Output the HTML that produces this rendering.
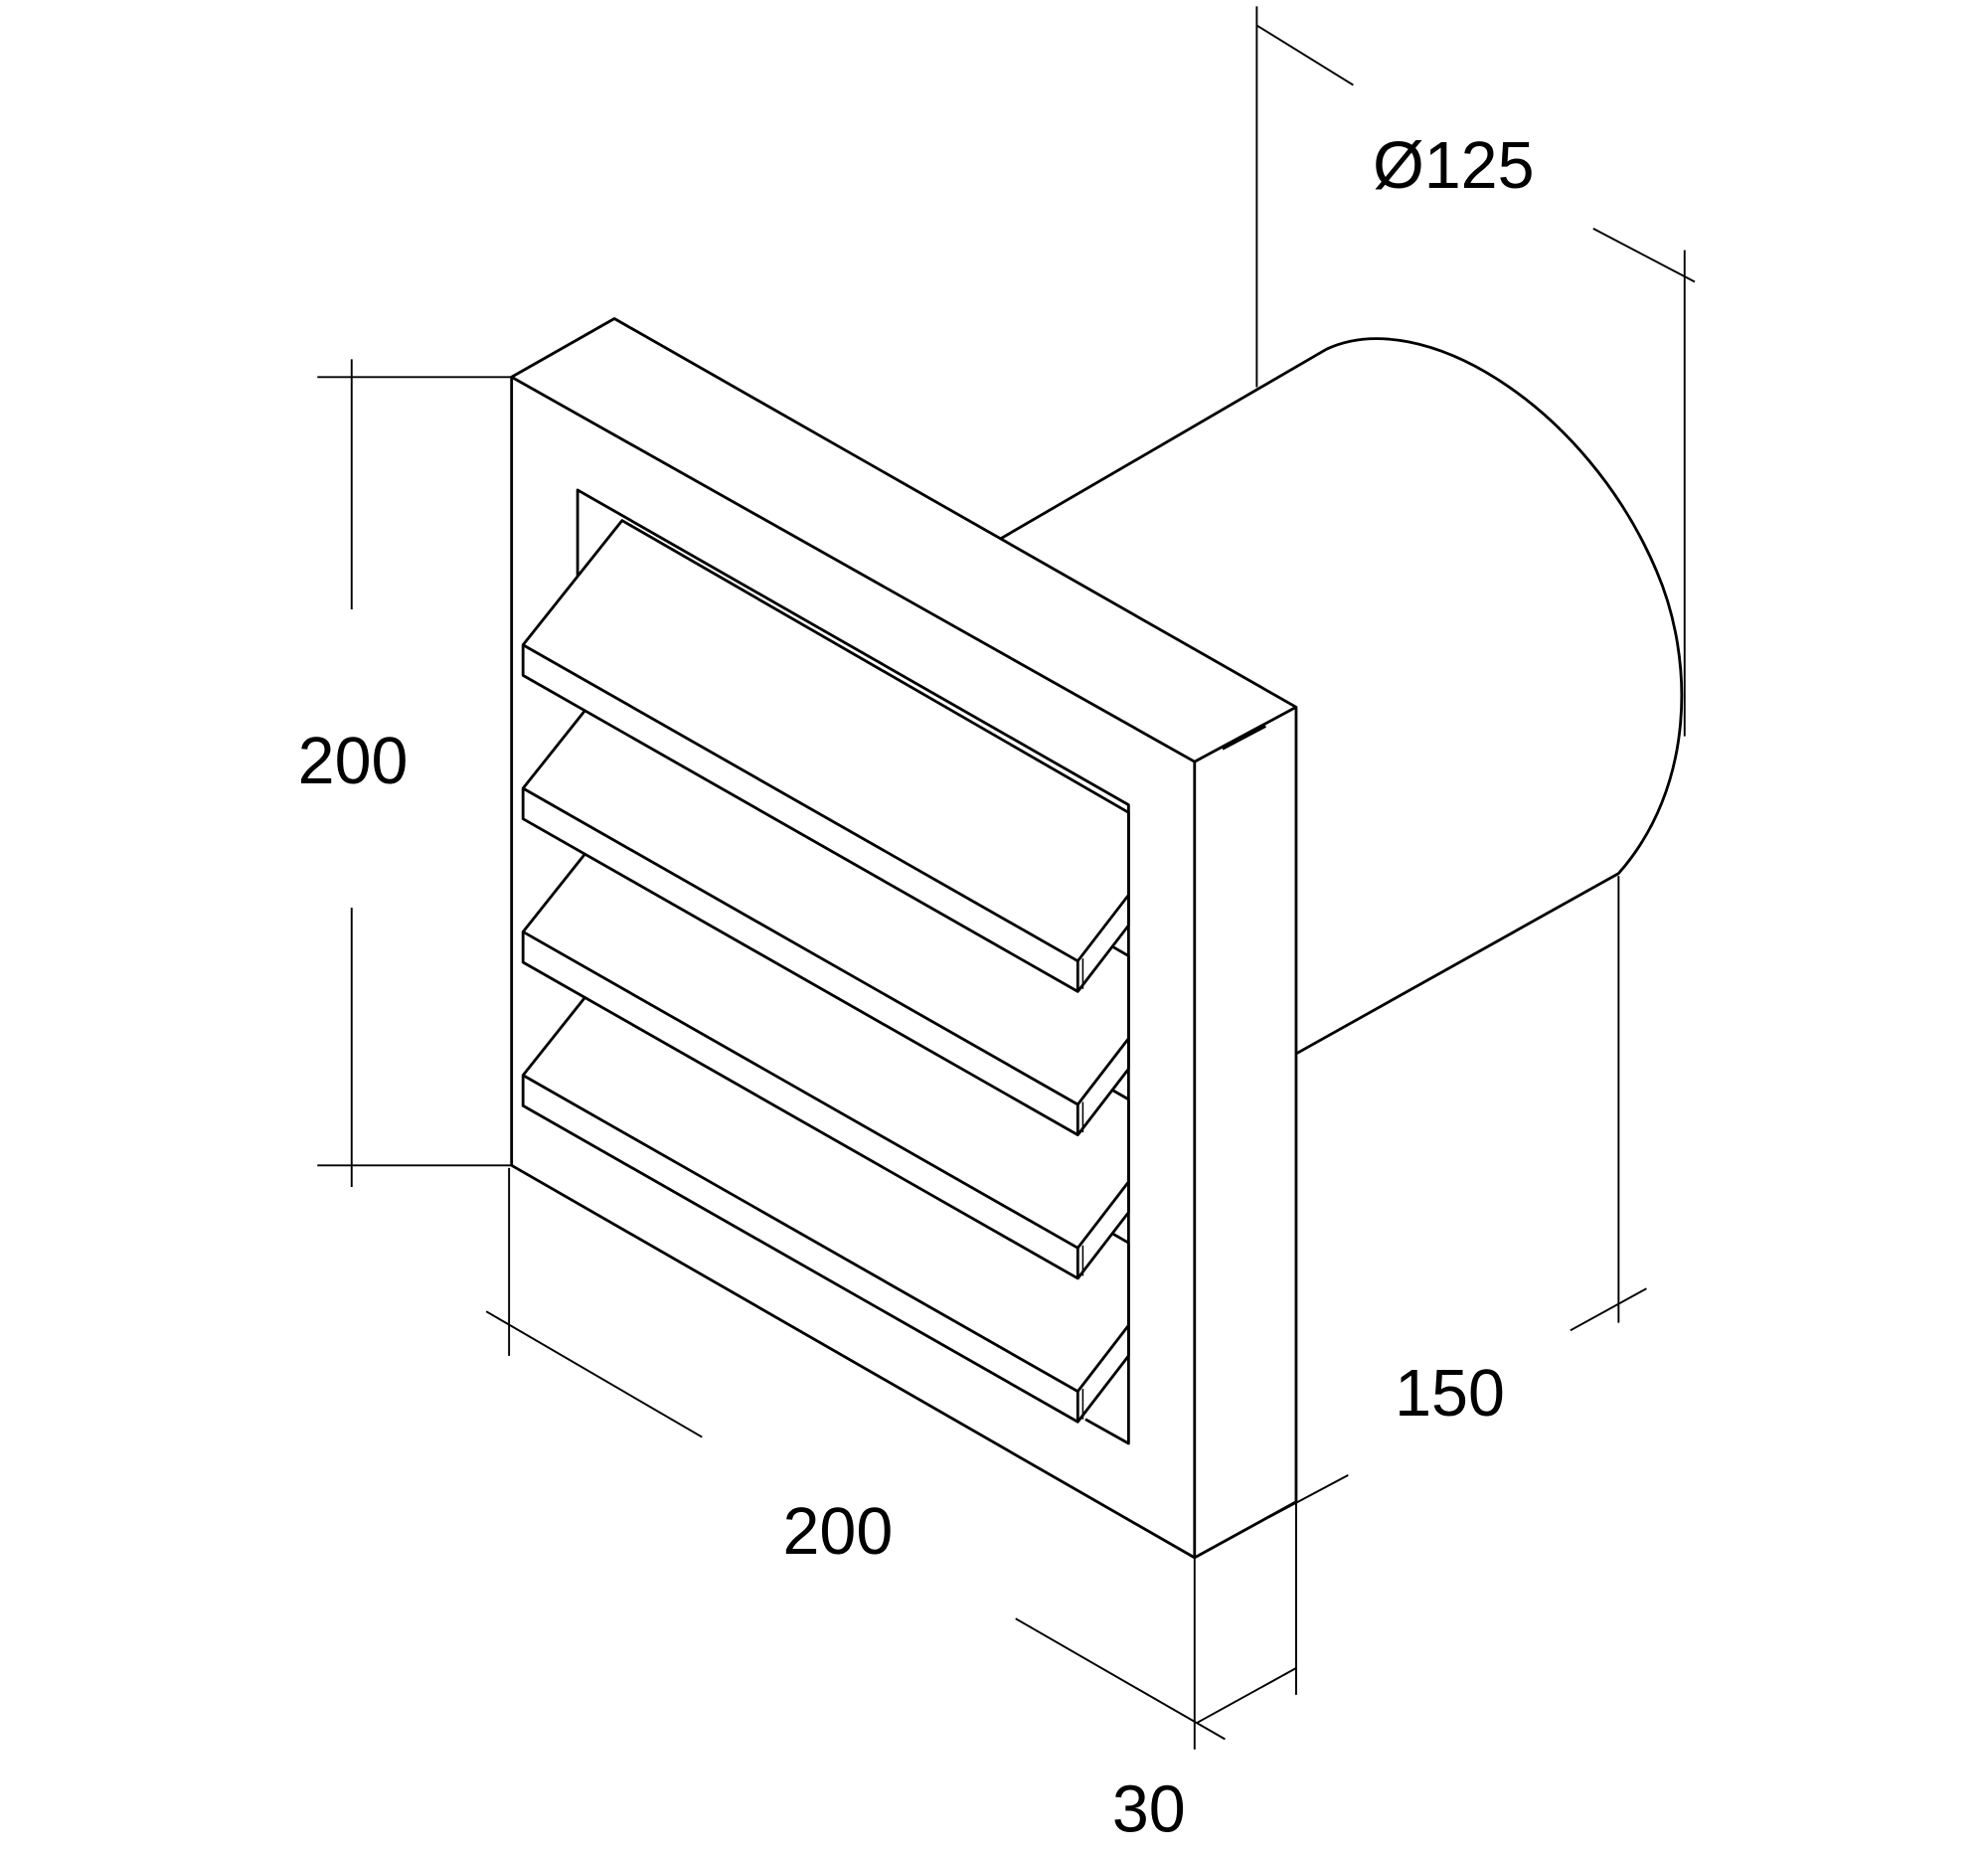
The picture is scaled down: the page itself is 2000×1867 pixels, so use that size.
<!DOCTYPE html>
<html><head><meta charset="utf-8"><style>
html,body{margin:0;padding:0;background:#fff;}
svg{display:block}
text{font-family:"Liberation Sans",Arial,sans-serif;font-size:52px;fill:#000}
</style></head><body>
<svg width="2000" height="1867" viewBox="0 0 1566 1462" preserveAspectRatio="none" xmlns="http://www.w3.org/2000/svg">
<g fill="none" stroke="#000" stroke-width="2.2" stroke-linejoin="round">
<!-- cylinder -->
<path d="M787,425 L1045,275 C1120,240 1250,320 1305,450 C1335,520 1335,620 1275,688 L1021,830" fill="#fff"/>
<!-- frame -->
<polygon points="403,297 484,251 1021,557 1021,1183 941,1227 403,918" fill="#fff"/>
<polyline points="403,297 941,600 1021,557"/>
<line x1="941" y1="600" x2="941" y2="1227"/>
<line x1="963" y1="590" x2="997" y2="572"/>
<!-- inner opening -->
<polyline points="455,520 455,386 889,634 889,1137 855,1118"/>
<!-- louvers (bottom first) -->
<g fill="#fff">
<g id="l4"><polygon points="412,847 490,749 889,979 889,1068 849,1120 412,871"/><polyline points="412,847 849,1096 889,1044"/><line x1="849" y1="1096" x2="849" y2="1120"/><line x1="853" y1="1094" x2="853" y2="1118" stroke-width="1.2"/></g>
<g><polygon points="412,734 490,636 889,866 889,955 849,1007 412,758"/><polyline points="412,734 849,983 889,931"/><line x1="849" y1="983" x2="849" y2="1007"/><line x1="853" y1="981" x2="853" y2="1005" stroke-width="1.2"/></g>
<g><polygon points="412,621 490,523 889,753 889,842 849,894 412,645"/><polyline points="412,621 849,870 889,818"/><line x1="849" y1="870" x2="849" y2="894"/><line x1="853" y1="868" x2="853" y2="892" stroke-width="1.2"/></g>
<g><polygon points="412,508 490,410 889,640 889,729 849,781 412,532"/><polyline points="412,508 849,757 889,705"/><line x1="849" y1="757" x2="849" y2="781"/><line x1="853" y1="755" x2="853" y2="779" stroke-width="1.2"/></g>
</g>
</g>
<!-- dimension lines -->
<g stroke="#000" stroke-width="1.5" fill="none">
<line x1="990" y1="5" x2="990" y2="305"/>
<line x1="990" y1="20" x2="1066" y2="67"/>
<line x1="1327" y1="197" x2="1327" y2="580"/>
<line x1="1255" y1="180" x2="1335" y2="222"/>
<line x1="250" y1="297" x2="403" y2="297"/>
<line x1="250" y1="918" x2="403" y2="918"/>
<line x1="277" y1="283" x2="277" y2="480"/>
<line x1="277" y1="715" x2="277" y2="935"/>
<line x1="401" y1="920" x2="401" y2="1068"/>
<line x1="383" y1="1033" x2="553" y2="1132"/>
<line x1="800" y1="1275" x2="965" y2="1370"/>
<line x1="941" y1="1227" x2="941" y2="1378"/>
<line x1="1021" y1="1183" x2="1021" y2="1335"/>
<line x1="943" y1="1357" x2="1021" y2="1314"/>
<line x1="1275" y1="690" x2="1275" y2="1042"/>
<line x1="1237" y1="1048" x2="1297" y2="1015"/>
<line x1="1000" y1="1195" x2="1062" y2="1162"/>
</g>
<text x="1145" y="148" text-anchor="middle">Ø125</text>
<text x="278" y="617" text-anchor="middle">200</text>
<text x="660" y="1224" text-anchor="middle">200</text>
<text x="1142" y="1115" text-anchor="middle">150</text>
<text x="905" y="1443" text-anchor="middle">30</text>
</svg>
</body></html>
